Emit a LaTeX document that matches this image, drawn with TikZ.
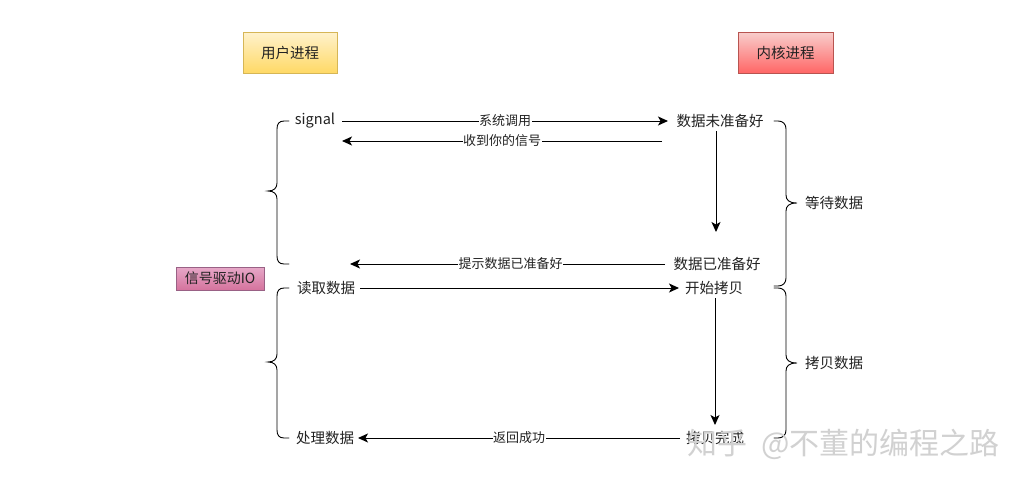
\documentclass[tikz,border=0pt]{standalone}
\usepackage{fontspec}
\setmainfont{Noto Sans CJK SC}
\usetikzlibrary{arrows.meta}
\definecolor{yTop}{HTML}{FFF2CC}\definecolor{yBot}{HTML}{FFD966}\definecolor{yLine}{HTML}{D6B656}
\definecolor{rTop}{HTML}{F8CECC}\definecolor{rBot}{HTML}{FF6666}\definecolor{rLine}{HTML}{B85450}
\definecolor{pTop}{HTML}{E6A8C8}\definecolor{pBot}{HTML}{D5739D}\definecolor{pLine}{HTML}{996185}
\definecolor{txt}{HTML}{222222}
\begin{document}
\begin{tikzpicture}[x=1pt,y=-1pt,
  every node/.style={text=txt},
  plain/.style={font=\fontsize{14.5}{16}\selectfont, inner sep=0pt, anchor=center},
  lbl/.style={font=\fontsize{13}{14}\selectfont, fill=white, inner sep=0.5pt},
  conn/.style={line width=1pt, -{Stealth[length=10pt,width=9pt,inset=2.5pt]}},
  brace/.style={line width=0.9pt, line cap=round},
  ybox/.style={draw=yLine, top color=yTop, bottom color=yBot, minimum width=94pt, minimum height=41pt, font=\fontsize{14.5}{16}\selectfont, inner sep=0pt},
  rbox/.style={draw=rLine, top color=rTop, bottom color=rBot, minimum width=95pt, minimum height=41pt, font=\fontsize{14.5}{16}\selectfont, inner sep=0pt},
  pbox/.style={draw=pLine, top color=pTop, bottom color=pBot, minimum width=88pt, minimum height=23pt, font=\fontsize{14}{15}\selectfont, inner sep=0pt},
  wm/.style={font=\fontsize{30}{32}\selectfont, text=black!18, anchor=west, inner sep=0pt}
]
\useasboundingbox[fill=white] (0,0) rectangle (1029,490);

\node[ybox] (user) at (290,52.5) {用户进程};
\node[rbox] (kern) at (785.5,52.5) {内核进程};
\node[pbox] (sig) at (220,278.5) {信号驱动IO};

\node[plain] (signal) at (315,121) {signal};
\node[plain] (notready) at (720,121) {数据未准备好};
\node[plain] (ready) at (717,264) {数据已准备好};
\node[plain] (read) at (326,288) {读取数据};
\node[plain] (start) at (714,288) {开始拷贝};
\node[plain] (done) at (715,438) {拷贝完成};
\node[plain] (proc) at (325,438) {处理数据};
\node[plain] (wait) at (834,203) {等待数据};
\node[plain] (copy) at (834,363) {拷贝数据};

\coordinate (a1s) at (342,121); \coordinate (a1e) at (668,121);
\coordinate (a2s) at (662,141); \coordinate (a2e) at (342,141);
\coordinate (v1s) at (716,131); \coordinate (v1e) at (716,232);
\coordinate (a3s) at (665,264); \coordinate (a3e) at (350,264);
\coordinate (a4s) at (360,288); \coordinate (a4e) at (679,288);
\coordinate (v2s) at (715,298); \coordinate (v2e) at (715,425);
\coordinate (a5s) at (680,438); \coordinate (a5e) at (358,438);

\draw[conn] (a1s) -- node[lbl] {系统调用} (a1e);
\draw[conn] (a2s) -- node[lbl, pos=0.5] {收到你的信号} (a2e);
\draw[conn] (v1s) -- (v1e);
\draw[conn] (a3s) -- node[lbl, pos=0.49] {提示数据已准备好} (a3e);
\draw[conn] (a4s) -- (a4e);
\draw[conn] (v2s) -- (v2e);
\draw[conn] (a5s) -- node[lbl, pos=0.5] {返回成功} (a5e);

% left braces
\draw[brace] (289,121) -- (284,121) .. controls (279,121) and (277,124) .. (277,129) -- (277,183)
  .. controls (277,188) and (274,191) .. (268,191)
  .. controls (274,191) and (277,194) .. (277,199) -- (277,256)
  .. controls (277,261) and (279,264) .. (284,264) -- (289,264);
\draw[brace] (289,288) -- (284,288) .. controls (279,288) and (277,291) .. (277,296) -- (277,354)
  .. controls (277,359) and (274,362) .. (268,362)
  .. controls (274,362) and (277,365) .. (277,370) -- (277,430)
  .. controls (277,435) and (279,438) .. (284,438) -- (289,438);
% right braces
\draw[brace] (774,121) -- (778,121) .. controls (783,121) and (786,124) .. (786,129) -- (786,195)
  .. controls (786,200) and (789,203) .. (797,203)
  .. controls (789,203) and (786,206) .. (786,211) -- (786,278)
  .. controls (786,283) and (783,286) .. (778,286) -- (774,286);
\draw[brace] (774,288) -- (778,288) .. controls (783,288) and (786,291) .. (786,296) -- (786,355)
  .. controls (786,360) and (789,363) .. (797,363)
  .. controls (789,363) and (786,366) .. (786,371) -- (786,430)
  .. controls (786,435) and (783,438) .. (778,438) -- (774,438);

\node[wm] (mark) at (687,444) {知乎\hspace{14pt}@不董的编程之路};
\end{tikzpicture}
\end{document}
